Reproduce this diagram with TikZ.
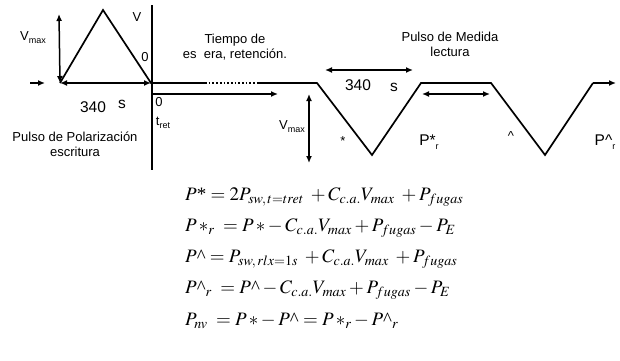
\documentclass[tikz,border=0pt]{standalone}
\usepackage{mathptmx}
\usepackage[no-math]{fontspec}
\setmainfont{Liberation Sans}
\newfontfamily\timesf{Liberation Serif}
\usetikzlibrary{arrows.meta}
\newcommand{\sub}[1]{\raisebox{-0.45ex}{\fontsize{9}{9}\selectfont #1}}
\newcommand{\crt}{\mbox{\timesf\textasciicircum}}
\newcommand{\str}{\mbox{\timesf *}}

\begin{document}
\begin{tikzpicture}[x=1pt, y=-1pt,
  wave/.style={line width=1.7pt, line join=miter},
  dim/.style={line width=1.5pt, {Latex[length=7pt,width=6pt]}-{Latex[length=7pt,width=6pt]}},
  fwd/.style={line width=1.5pt, -{Latex[length=7pt,width=6pt]}},
  lab/.style={font=\fontsize{13}{15}\selectfont, inner sep=0pt, align=center},
  big/.style={lab, font=\fontsize{15.5}{17}\selectfont},
  eq/.style={anchor=west, inner sep=0pt, font=\fontsize{19}{22}\selectfont}]
\useasboundingbox (0,0) rectangle (620,360);
% waveform points
\coordinate (in) at (30,83);
\coordinate (a0) at (60,83);
\coordinate (top) at (103,10);
\coordinate (o) at (151,83);
\coordinate (d1) at (205,83);
\coordinate (d2) at (257,83);
\coordinate (f1) at (317,83);
\coordinate (v1) at (372,155);
\coordinate (f2) at (421,83);
\coordinate (f3) at (491,83);
\coordinate (v2) at (545,155);
\coordinate (f4) at (593,83);
\coordinate (out) at (616,83);
% axes
\coordinate (axt) at (152,5);
\coordinate (axb) at (152,170);
\coordinate (tt) at (278,94);
\draw[line width=1.7pt] (axt) -- (axb);
\draw[fwd] (axb |- tt) -- (tt);
% pulses
\draw[fwd] (in) -- ++(15,0);
\draw[wave] (a0) -- (top) -- (o) -- (d1);
\draw[wave, dotted] (d1) -- (d2);
\draw[wave] (d2) -- (f1) -- (v1) -- (f2) -- (f3) -- (v2) -- (f4);
\draw[fwd] (f4) -- (out);
% dimensions
\coordinate (vt) at (59,14);
\coordinate (u1) at (325,70);
\coordinate (u2) at (413,70);
\coordinate (w1) at (422,94);
\coordinate (w2) at (490,94);
\coordinate (h1) at (309,94);
\coordinate (h2) at (309,163);
\draw[dim] (vt) -- (a0);
\draw[dim] (a0) -- (o);
\draw[dim] (u1) -- (u2);
\draw[dim] (w1) -- (w2);
\draw[dim] (h1) -- (h2);
% labels
\node[lab] (vmx1) at (33,38) {V\sub{max}};
\node[big] (n340a) at (93,107) {340};
\node[big] (sa) at (122,104) {s};
\node[lab] (vv) at (137,17) {V};
\node[lab] (z1) at (145,57) {0};
\node[lab] (z2) at (159,102) {0};
\node[lab] (tret) at (163,123) {t\sub{ret}};
\node[lab] (tiempo) at (235,47) {Tiempo de\\es\ \ era, retención.};
\node[lab] (medida) at (450,44) {Pulso de Medida\\lectura};
\node[lab] (polar) at (75,144) {Pulso de Polarización\\escritura};
\node[lab] (vmx2) at (292,127) {V\sub{max}};
\node[big] (n340b) at (358,85) {340};
\node[big] (sb) at (394,87) {s};
\node[lab] (ast) at (343,141) {*};
\node[big] (pr1) at (429,142) {P*\sub{r}};
\node[lab] (crt1) at (511,136) {\textasciicircum};
\node[big] (pr2) at (605,142) {P\textasciicircum\sub{r}};
% equations
\node[eq] (eq1) at (185,197) {$P\str = 2P_{sw,\,t=tret} \;+ C_{c.a.}V_{max} \;+ P_{fugas}$};
\node[eq] (eq2) at (185,228) {$P\,{*}_{r} \;= P\,{*} - C_{c.a.}V_{max} + P_{fugas} - P_{E}$};
\node[eq] (eq3) at (185,259) {$P\crt = P_{sw,\,rlx=1s} \;+ C_{c.a.}V_{max} \;+ P_{fugas}$};
\node[eq] (eq4) at (185,290) {$P\crt_{r} \;= P\crt - C_{c.a.}V_{max} + P_{fugas} - P_{E}$};
\node[eq] (eq5) at (185,321) {$P_{nv} \;= P\,{*} - P\crt = P\,{*}_{r} - P\crt_{r}$};
\end{tikzpicture}
\end{document}
